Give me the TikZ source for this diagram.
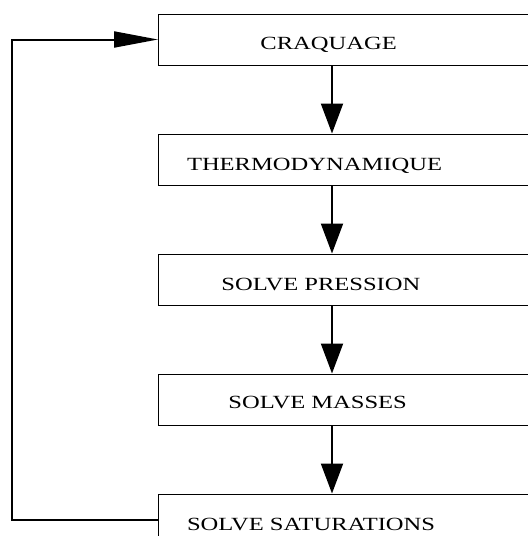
\documentclass[tikz,border=0pt]{standalone}
\usepackage{fontspec}
\setmainfont{Liberation Serif}
\usepackage{tikz}
\usetikzlibrary{arrows.meta, positioning, calc}

\newcommand{\stagename}[1]{\scalebox{1.32}[1]{\fontsize{9.3pt}{11pt}\selectfont #1}}

\begin{document}
\begin{tikzpicture}[x=0.5pt, y=-0.5pt,
    stagebox/.style={draw=black, line width=0.5pt, rectangle, minimum width=201pt, minimum height=25.5pt, inner sep=0pt},
    stagetext/.style={anchor=base west, inner sep=0pt},
    flow/.style={line width=1pt, -{Triangle[length=15pt, width=11pt]}},
    back/.style={line width=1pt, -{Triangle[length=22pt, width=8pt]}}]
        \useasboundingbox (0, 0) rectangle (528, 536);
        \clip (0, 0) rectangle (528, 536);
        
        % boxes
        \node[stagebox, anchor=west] (craq) at (158, 39.5) {};
        \node[stagebox, below=34pt of craq] (thermo) {};
        \node[stagebox, below=34pt of thermo] (pres) {};
        \node[stagebox, below=34pt of pres] (mass) {};
        \node[stagebox, below=34pt of mass] (satu) {};
        
        % labels
        \node[stagetext] (tcraq) at ($(craq.west)+(51pt,-5pt)$) {\stagename{CRAQUAGE}};
        \node[stagetext] (tthermo) at ($(thermo.west)+(14.3pt,-5.5pt)$) {\stagename{THERMODYNAMIQUE}};
        \node[stagetext] (tpres) at ($(pres.west)+(31.5pt,-5.5pt)$) {\stagename{SOLVE PRESSION}};
        \node[stagetext] (tmass) at ($(mass.west)+(35pt,-4.5pt)$) {\stagename{SOLVE MASSES}};
        \node[stagetext] (tsatu) at ($(satu.west)+(14.3pt,-5.5pt)$) {\stagename{SOLVE SATURATIONS}};
        
        % arrows
        \coordinate (axis) at (332, 0);
        \draw[flow] (craq.south -| axis) -- (thermo.north -| axis);
        \draw[flow] (thermo.south -| axis) -- (pres.north -| axis);
        \draw[flow] (pres.south -| axis) -- (mass.north -| axis);
        \draw[flow] (mass.south -| axis) -- (satu.north -| axis);
        
        \draw[back] (satu.west) -- ++(-146, 0) |- (craq.west);
        
      \end{tikzpicture}
\end{document}
